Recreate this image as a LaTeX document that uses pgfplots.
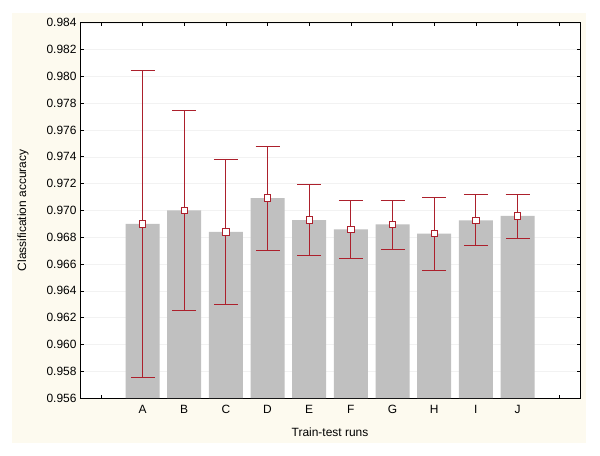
\documentclass[border=0pt]{standalone}
\usepackage{pgfplots}
\pgfplotsset{compat=1.18}
\usepackage{pgfplotstable}
\usepackage{fontspec}
\setmainfont{Liberation Sans}
\definecolor{barGray}{RGB}{192,192,192}
\definecolor{errRed}{RGB}{172,32,44}
\definecolor{cream}{RGB}{253,250,239}
\pgfplotstableread{
x y ep em
1 0.96900 0.01145 0.01143
2 0.97000 0.00746 0.00743
3 0.96840 0.00543 0.00544
4 0.97092 0.00388 0.00390
5 0.96928 0.00266 0.00266
6 0.96858 0.00220 0.00220
7 0.96896 0.00180 0.00185
8 0.96826 0.00271 0.00273
9 0.96926 0.00190 0.00190
10 0.96958 0.00163 0.00166
}\datatable
\begin{document}
\begin{tikzpicture}
\fill[white] (0bp,0bp) rectangle (600bp,-456bp);
\fill[cream] (12bp,-13bp) rectangle (586bp,-443bp);
\begin{axis}[
  at={(80bp,-398bp)}, anchor=south west,
  width=500bp, height=375.3bp, scale only axis,
  axis background/.style={fill=white},
  xmin=-0.5, xmax=11.5,
  ymin=0.956, ymax=0.984,
  xtick={0,1,2,3,4,5,6,7,8,9,10,11},
  xticklabels={,A,B,C,D,E,F,G,H,I,J,},
  ytick distance=0.002,
  tick align=inside,
  major tick length=3.5bp,
  tick style={black, line width=0.5pt},
  axis line style={black, line width=0.8pt},
  ymajorgrids,
  grid style={color=black!5, line width=0.4pt},
  /pgf/number format/assume math mode=true,
  yticklabel style={/pgf/number format/.cd, fixed, fixed zerofill, precision=3},
  scaled y ticks=false,
  ticklabel style={font=\fontsize{12}{14}\selectfont},
  xticklabel style={yshift=-4bp},
  label style={font=\fontsize{12}{14}\selectfont},
  xlabel={Train-test runs},
  ylabel={Classification accuracy},
  xlabel style={at={(axis description cs:0.5,0)}, anchor=center, yshift=-34bp},
  ylabel style={at={(axis description cs:0,0.5)}, anchor=center, yshift=57bp},
]
\addplot[ybar, bar width=34bp, bar shift=0pt, fill=barGray, draw=none] table[x=x, y=y] {\datatable};
\addplot[only marks, mark=square*, mark size=3.2bp,
  mark options={fill=white, draw=errRed, line width=0.8pt},
  error bars/.cd, y dir=both, y explicit,
  error bar style={line width=0.8pt, color=errRed},
  error mark options={rotate=90, mark size=12bp, line width=0.8pt, color=errRed}]
  table[x=x, y=y, y error plus=ep, y error minus=em] {\datatable};
\end{axis}
\end{tikzpicture}
\end{document}
